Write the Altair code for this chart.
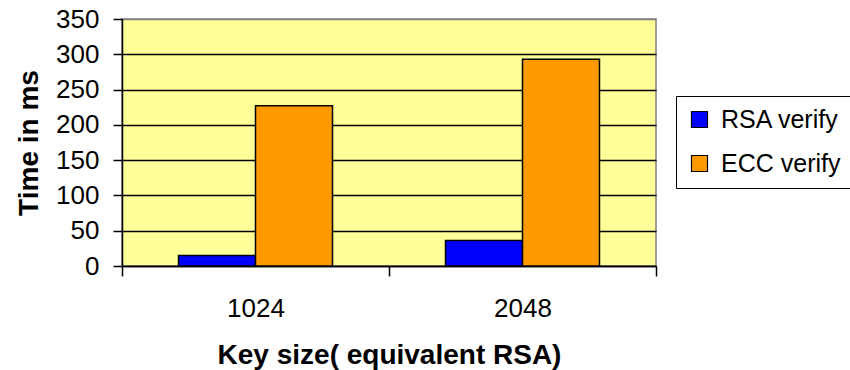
import altair as alt
import pandas as pd

# Verification time per key size
key_sizes = ["1024", "2048"]
series_names = ["RSA verify", "ECC verify"]
rsa_verify = [15, 36]
ecc_verify = [227, 293]
bar_colors = ["#0000FF", "#FF9900"]
y_ticks = [0, 50, 100, 150, 200, 250, 300, 350]

rows = []
for i, size in enumerate(key_sizes):
    rows.append({"size": size, "series": series_names[0], "time": rsa_verify[i]})
    rows.append({"size": size, "series": series_names[1], "time": ecc_verify[i]})
df = pd.DataFrame(rows)

FONT = "Liberation Sans"

bars = alt.Chart(df).mark_bar(stroke="black", strokeWidth=1.5).encode(
    x=alt.X(
        "size:N",
        sort=key_sizes,
        scale=alt.Scale(paddingInner=0, paddingOuter=0),
        axis=alt.Axis(
            title="Key size( equivalent RSA)",
            titleFontSize=28,
            titleFontWeight="bold",
            titleFont=FONT,
            titleColor="black",
            titleY=97,
            titleBaseline="alphabetic",
            labelAngle=0,
            labelFontSize=26,
            labelFont=FONT,
            labelColor="black",
            labelPadding=19,
            tickBand="extent",
            tickSize=10,
            tickColor="black",
            tickWidth=1.5,
            domainColor="black",
            domainWidth=1.5,
            grid=False,
        ),
    ),
    xOffset=alt.XOffset(
        "series:N",
        sort=series_names,
        scale=alt.Scale(domain=series_names, paddingInner=0, paddingOuter=0.734),
    ),
    y=alt.Y(
        "time:Q",
        scale=alt.Scale(domain=[0, 350], nice=False, zero=True),
        axis=alt.Axis(
            title="Time in ms",
            titleFontSize=28,
            titleFontWeight="bold",
            titleFont=FONT,
            titleColor="black",
            titleAngle=-90,
            titleX=-85,
            titleBaseline="alphabetic",
            titleAlign="center",
            values=y_ticks,
            labelFontSize=26,
            labelFont=FONT,
            labelColor="black",
            labelPadding=14,
            tickSize=9,
            tickColor="black",
            tickWidth=1.5,
            domainColor="black",
            domainWidth=1.5,
            grid=True,
            gridColor={"condition": {"test": "datum.value === 350", "value": "#808080"}, "value": "black"},
            gridWidth=1.6,
        ),
    ),
    color=alt.Color(
        "series:N",
        sort=series_names,
        scale=alt.Scale(domain=series_names, range=bar_colors),
        legend=alt.Legend(
            title=None,
            orient="none",
            legendX=554,
            legendY=77,
            strokeColor="black",
            fillColor="white",
            padding=11,
            symbolType="square",
            symbolSize=256,
            symbolStrokeColor="black",
            symbolStrokeWidth=1.2,
            labelFontSize=25,
            labelFont=FONT,
            labelColor="black",
            labelOffset=9,
            rowPadding=18,
        ),
    ),
)

chart = bars.properties(
    width=534,
    height=247,
    autosize=alt.AutoSizeParams(type="none"),
    padding={"left": 122, "top": 19, "right": 194, "bottom": 104},
    background="white",
).configure_view(
    fill="#FFFF99",
    stroke="#808080",
    strokeWidth=1.5,
)

chart.save("out.html", embed_options={"renderer": "svg", "actions": False})
